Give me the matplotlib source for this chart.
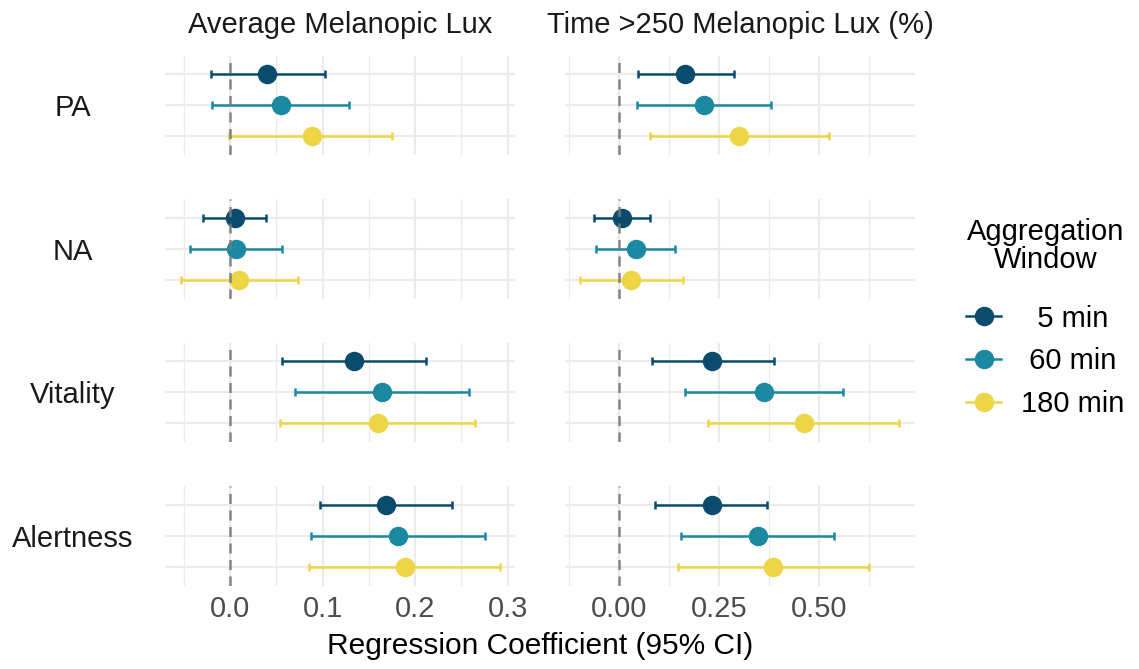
import numpy as np
import matplotlib.pyplot as plt
from matplotlib.lines import Line2D
from matplotlib.ticker import FormatStrFormatter

plt.rcParams['font.family'] = ['Liberation Sans', 'DejaVu Sans']

outcomes = ['PA', 'NA', 'Vitality', 'Alertness']
exposures = ['Average Melanopic Lux', 'Time >250 Melanopic Lux (%)']
windows = ['5 min', '60 min', '180 min']
colors = ['#0B4C6E', '#1A89A1', '#EDD545']

# rows = outcome, columns = window (5, 60, 180 min)
avg_est = [[0.040, 0.055, 0.088],
           [0.005, 0.006, 0.010],
           [0.134, 0.164, 0.160],
           [0.168, 0.181, 0.189]]
avg_lo = [[-0.021, -0.020, -0.001],
          [-0.029, -0.044, -0.053],
          [0.056, 0.070, 0.054],
          [0.097, 0.087, 0.085]]
avg_hi = [[0.103, 0.129, 0.175],
          [0.039, 0.056, 0.073],
          [0.212, 0.258, 0.265],
          [0.240, 0.276, 0.292]]

time_est = [[0.166, 0.213, 0.301],
            [0.008, 0.043, 0.030],
            [0.233, 0.363, 0.463],
            [0.232, 0.348, 0.386]]
time_lo = [[0.047, 0.045, 0.078],
           [-0.062, -0.057, -0.097],
           [0.082, 0.165, 0.223],
           [0.091, 0.155, 0.147]]
time_hi = [[0.288, 0.380, 0.524],
           [0.078, 0.141, 0.159],
           [0.388, 0.561, 0.701],
           [0.371, 0.537, 0.626]]

avg_ticks = [0.0, 0.1, 0.2, 0.3]
time_ticks = [0.0, 0.25, 0.5]

W, H = 1139, 669
fig = plt.figure(figsize=(W / 100, H / 100), dpi=100)

col_x = [165, 565]
col_w = 350
row_top = [55.5, 199, 342.5, 486]
row_h = 99.5

panels = [
    (avg_est, avg_lo, avg_hi, avg_ticks, (-0.0705, 0.308), '%.1f'),
    (time_est, time_lo, time_hi, time_ticks, (-0.135, 0.74), '%.2f'),
]
ypos = [2, 1, 0]
grid_c = '#EBEBEB'

for c, (est, lo, hi, ticks, xlim, fmt) in enumerate(panels):
    step = ticks[1] - ticks[0]
    minor = np.arange(ticks[0] - step / 2, xlim[1], step)
    for r in range(len(outcomes)):
        ax = fig.add_axes([col_x[c] / W, 1 - (row_top[r] + row_h) / H,
                           col_w / W, row_h / H])
        ax.set_xlim(*xlim)
        ax.set_ylim(-0.6, 2.6)
        ax.set_xticks(ticks)
        ax.set_xticks(minor, minor=True)
        ax.set_yticks(ypos)
        ax.set_yticklabels([])
        ax.tick_params(length=0, which='both', labelsize=21,
                       labelcolor='#4D4D4D', pad=7)
        ax.xaxis.set_major_formatter(FormatStrFormatter(fmt))
        if r < len(outcomes) - 1:
            ax.set_xticklabels([])
        for s in ax.spines.values():
            s.set_visible(False)
        ax.set_axisbelow(True)
        ax.grid(which='major', color=grid_c, lw=1.6)
        ax.grid(which='minor', axis='x', color=grid_c, lw=1.0)
        for k in range(len(windows)):
            e = est[r][k]
            ax.errorbar([e], [ypos[k]], xerr=[[e - lo[r][k]], [hi[r][k] - e]],
                        fmt='o', color=colors[k], ms=13, lw=1.8,
                        capsize=3, capthick=1.8, zorder=3)
        ax.axvline(0, color='#7A7A7A', lw=1.8, ls=(0, (4, 2.6)),
                   alpha=0.9, zorder=4)

# strip titles
for c, name in enumerate(exposures):
    fig.text((col_x[c] + col_w / 2) / W, 1 - 33 / H, name, ha='center',
             va='baseline', fontsize=21, color='#1A1A1A')

# row labels
for r, name in enumerate(outcomes):
    yc = row_top[r] + row_h / 2 + 11
    fig.text(73 / W, 1 - yc / H, name, ha='center', va='baseline',
             fontsize=21, color='#1A1A1A')

fig.text(540 / W, 1 - 646 / H, 'Regression Coefficient (95% CI)',
         ha='center', va='center', fontsize=21.5, color='black')

maxlen = max(len(w) for w in windows)
handles = [Line2D([], [], color=colors[k], marker='o', ms=13, lw=1.8)
           for k in range(len(windows))]
labels = [' ' * (maxlen - len(w)) + w for w in windows]
leg = fig.legend(handles, labels, title='Aggregation\nWindow',
                 loc='center left', bbox_to_anchor=(966 / W, 1 - 318 / H),
                 frameon=False, fontsize=21, title_fontsize=21,
                 borderpad=0, borderaxespad=0,
                 handlelength=1.2, handletextpad=0.7, labelspacing=0.5)
leg.get_title().set_multialignment('center')
leg.get_title().set_linespacing(1.0)
leg._legend_box.sep = 22

fig.savefig('out.png', dpi=100)
